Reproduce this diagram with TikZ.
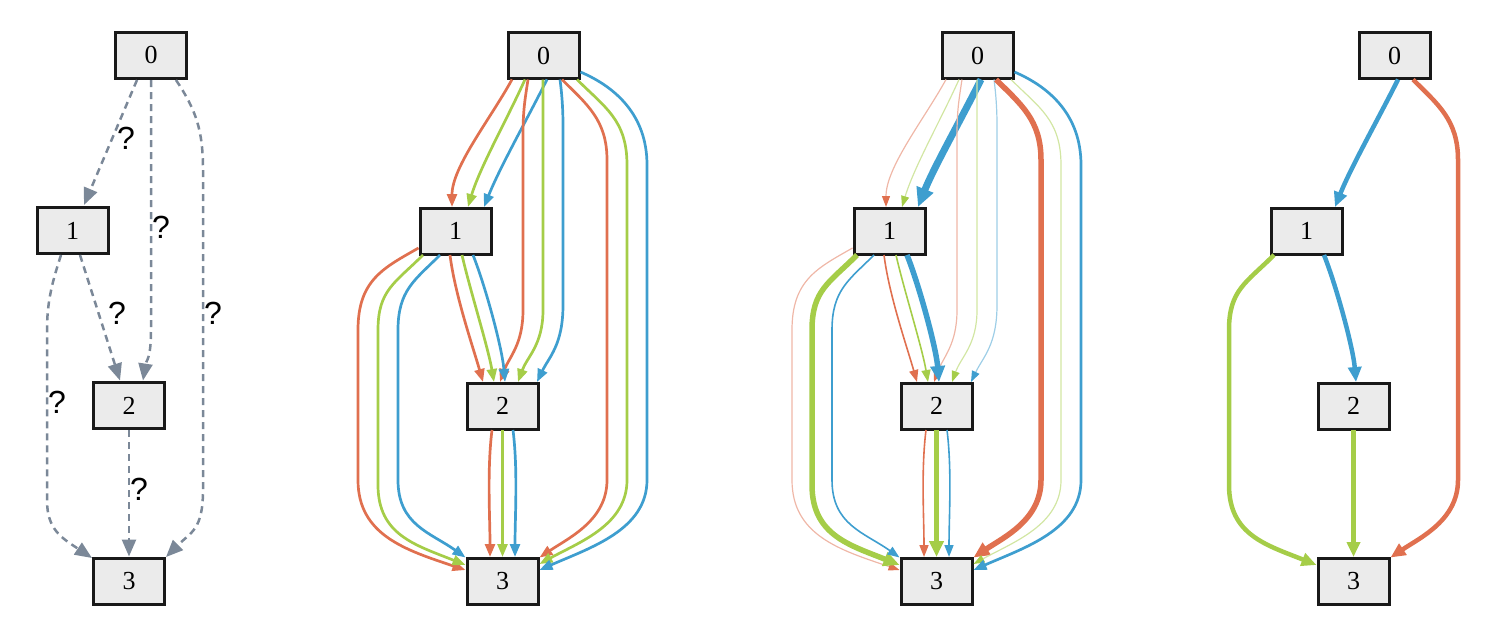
\documentclass[tikz,border=0pt]{standalone}
\usepackage{fontspec}
\setmainfont{Liberation Serif}
\newfontfamily\qfont{Liberation Sans}
\usetikzlibrary{arrows.meta,calc}
\definecolor{cred}{HTML}{E0704F}
\definecolor{cgreen}{HTML}{A5CD48}
\definecolor{cblue}{HTML}{3E9ECF}
\definecolor{cslate}{HTML}{7B8898}
\definecolor{nodegray}{HTML}{EBEBEB}
% edges of the coloured panels (prefix #1, style #2)
\newcommand\eABr[2]{\draw[#2] ($(#10.center)+(-31.5,24)$) .. controls +(-22,40) and +(0,-40) .. ($(#11.center)+(-3.5,-24)$);}
\newcommand\eABg[2]{\draw[#2] ($(#10.center)+(-18.5,24)$) .. controls +(-18,40) and +(12,-40) .. ($(#11.center)+(12.5,-24)$);}
\newcommand\eABb[2]{\draw[#2] ($(#10.center)+(3.5,24)$) .. controls +(-20,40) and +(16,-40) .. ($(#11.center)+(28.5,-24)$);}
\newcommand\eACr[2]{\draw[#2] ($(#10.center)+(-15.5,24)$) .. controls +(-3,20) and +(0,-25) .. (523,135) -- (523,310) .. controls +(0,35) and +(9,-25) .. ($(#12.center)+(-2.5,-24)$);}
\newcommand\eACg[2]{\draw[#2] ($(#10.center)+(-0.5,24)$) -- (543,310) .. controls +(0,35) and +(9,-25) .. ($(#12.center)+(15.5,-24)$);}
\newcommand\eACb[2]{\draw[#2] ($(#10.center)+(16.5,24)$) .. controls +(2,15) and +(0,-15) .. (563,125) -- (563,305) .. controls +(0,40) and +(12,-25) .. ($(#12.center)+(34.5,-24)$);}
\newcommand\eADr[2]{\draw[#2] ($(#10.center)+(18.5,24)$) .. controls +(25,25) and +(0,-40) .. (607,160) -- (607,480) .. controls +(0,40) and +(30,-20) .. ($(#13.center)+(37,-23.5)$);}
\newcommand\eADg[2]{\draw[#2] ($(#10.center)+(33.5,24)$) .. controls +(28,28) and +(0,-45) .. (627,165) -- (627,480) .. controls +(0,45) and +(40,-22) .. ($(#13.center)+(37,-17)$);}
\newcommand\eADb[2]{\draw[#2] ($(#10.center)+(37,16.5)$) .. controls +(35,15) and +(0,-50) .. (647,165) -- (647,480) .. controls +(0,50) and +(50,-22) .. ($(#13.center)+(37,-11)$);}
\newcommand\eBCr[2]{\draw[#2] ($(#11.center)+(-5.5,24)$) .. controls +(5,40) and +(-10,-35) .. ($(#12.center)+(-19.5,-24)$);}
\newcommand\eBCg[2]{\draw[#2] ($(#11.center)+(6.5,24)$) .. controls +(8,35) and +(-6,-35) .. ($(#12.center)+(-8.5,-24)$);}
\newcommand\eBCb[2]{\draw[#2] ($(#11.center)+(17.5,24)$) .. controls +(12,30) and +(-3,-35) .. ($(#12.center)+(2.5,-24)$);}
\newcommand\eBDr[2]{\draw[#2] ($(#11.center)+(-37,17)$) .. controls +(-35,20) and +(0,-50) .. (358,330) -- (358,480) .. controls +(0,55) and +(-60,-20) .. ($(#13.center)+(-37,-11)$);}
\newcommand\eBDg[2]{\draw[#2] ($(#11.center)+(-32.5,24)$) .. controls +(-28,28) and +(0,-40) .. (378,330) -- (378,485) .. controls +(0,50) and +(-50,-20) .. ($(#13.center)+(-37,-16)$);}
\newcommand\eBDb[2]{\draw[#2] ($(#11.center)+(-15.5,24)$) .. controls +(-25,25) and +(0,-40) .. (398,330) -- (398,480) .. controls +(0,45) and +(-35,-25) .. ($(#13.center)+(-37,-23.5)$);}
\newcommand\eCDr[2]{\draw[#2] ($(#12.center)+(-10.5,24)$) .. controls +(-5,40) and +(0,-40) .. ($(#13.center)+(-12.5,-24)$);}
\newcommand\eCDg[2]{\draw[#2] ($(#12.center)+(0,24)$) -- ($(#13.center)+(0,-24)$);}
\newcommand\eCDb[2]{\draw[#2] ($(#12.center)+(10.5,24)$) .. controls +(5,40) and +(0,-40) .. ($(#13.center)+(12.5,-24)$);}
\newcommand\fournodes[1]{%
  \node[nd] (#10) at (543.5,55.5) {0};
  \node[nd] (#11) at (455.5,231) {1};
  \node[nd] (#12) at (502.5,406) {2};
  \node[nd] (#13) at (502.5,581) {3};}
\begin{document}
\begin{tikzpicture}[x=1pt,y=-1pt,
  nd/.style={draw=black!90, line width=3pt, fill=nodegray, minimum width=71pt,
    minimum height=46pt, inner sep=0pt, font=\fontsize{26}{28}\selectfont},
  ql/.style={font=\qfont\fontsize{32}{34}\selectfont, inner sep=0pt},
  qedge/.style={draw=cslate, line width=2.5pt, dash pattern=on 7pt off 5pt,
    -{Triangle[length=17pt,width=14pt]}},
  wstd/.style={draw=#1, line width=2.7pt, -{Triangle[length=13pt,width=10pt]}},
  wthin/.style={draw=#1, line width=1.6pt, -{Triangle[length=12pt,width=9pt]}},
  wpale/.style={draw=#1!50, line width=1.2pt, -{Triangle[length=11pt,width=8pt,color=#1]}},
  wthick/.style={draw=#1, line width=5.5pt, -{Triangle[length=16pt,width=14pt]}},
  wxthick/.style={draw=#1, line width=7pt, -{Triangle[length=19pt,width=17pt]}},
  wbold/.style={draw=#1, line width=4.5pt, -{Triangle[length=15pt,width=13pt]}}]
\useasboundingbox (0,0) rectangle (1504,624);
% ---------- panel 1 ----------
\node[nd] (a0) at (151,55) {0};
\node[nd] (a1) at (72.5,230.5) {1};
\node[nd] (a2) at (129,405.5) {2};
\node[nd] (a3) at (129,581) {3};
\draw[qedge] ($(a0.center)+(-14,25)$) -- ($(a1.center)+(11.5,-25.5)$);
\draw[qedge] ($(a0.center)+(0,25)$) -- (151,330) .. controls +(0,30) and +(3,-20) .. ($(a2.center)+(14,-25)$);
\draw[qedge] ($(a0.center)+(25,25)$) .. controls +(20,30) and +(0,-40) .. (203,170) -- (203,490) .. controls +(0,40) and +(25,-25) .. ($(a3.center)+(37,-24)$);
\draw[qedge] ($(a1.center)+(7.5,24.5)$) -- ($(a2.center)+(-9,-25)$);
\draw[qedge] ($(a1.center)+(-11.5,24.5)$) .. controls +(-8,25) and +(0,-30) .. (47,330) -- (47,500) .. controls +(0,30) and +(-30,-20) .. ($(a3.center)+(-37,-23)$);
\draw[qedge] ($(a2.center)+(0,24.5)$) -- ($(a3.center)+(0,-24.5)$);
\node[ql] (q01) at (126,138) {?};
\node[ql] (q02) at (161,227) {?};
\node[ql] (q12) at (117,313) {?};
\node[ql] (q03) at (213,313) {?};
\node[ql] (q13) at (57,402) {?};
\node[ql] (q23) at (139,489) {?};
% ---------- panel 2 ----------
\begin{scope}
\fournodes{b}
\eABr{b}{wstd=cred}\eABg{b}{wstd=cgreen}\eABb{b}{wstd=cblue}
\eACr{b}{wstd=cred}\eACg{b}{wstd=cgreen}\eACb{b}{wstd=cblue}
\eADr{b}{wstd=cred}\eADg{b}{wstd=cgreen}\eADb{b}{wstd=cblue}
\eBCr{b}{wstd=cred}\eBCg{b}{wstd=cgreen}\eBCb{b}{wstd=cblue}
\eBDr{b}{wstd=cred}\eBDg{b}{wstd=cgreen}\eBDb{b}{wstd=cblue}
\eCDr{b}{wstd=cred}\eCDg{b}{wstd=cgreen}\eCDb{b}{wstd=cblue}
\end{scope}
% ---------- panel 3 ----------
\begin{scope}[xshift=434]
\fournodes{c}
\eABr{c}{wpale=cred}\eABg{c}{wpale=cgreen}\eABb{c}{wxthick=cblue}
\eACr{c}{wpale=cred}\eACg{c}{wpale=cgreen}\eACb{c}{wpale=cblue}
\eADr{c}{wthick=cred}\eADg{c}{wpale=cgreen}\eADb{c}{wstd=cblue}
\eBCr{c}{wthin=cred}\eBCg{c}{wthin=cgreen}\eBCb{c}{wthick=cblue}
\eBDr{c}{wpale=cred}\eBDg{c}{wthick=cgreen}\eBDb{c}{wthin=cblue}
\eCDr{c}{wthin=cred}\eCDg{c}{wthick=cgreen}\eCDb{c}{wthin=cblue}
\end{scope}
% ---------- panel 4 ----------
\begin{scope}[xshift=851]
\fournodes{d}
\eABb{d}{wbold=cblue}
\eADr{d}{wbold=cred}
\eBCb{d}{wbold=cblue}
\eBDg{d}{wbold=cgreen}
\eCDg{d}{wbold=cgreen}
\end{scope}
\end{tikzpicture}
\end{document}
